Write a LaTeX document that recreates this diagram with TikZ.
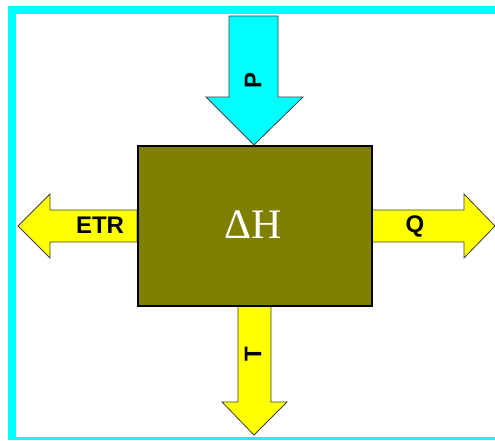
\documentclass[tikz,border=0pt]{standalone}
\usepackage{fontspec}
\newfontfamily\lblfont{Liberation Sans}
\newfontfamily\serfont{Liberation Serif}
\definecolor{frameC}{HTML}{00FFFF}
\definecolor{arrY}{HTML}{FFFF00}
\definecolor{boxC}{HTML}{808000}
\tikzset{
  arrowshape/.style={draw=black!75, line width=0.8pt, line join=miter},
  lbl/.style={font=\lblfont\bfseries\fontsize{24}{24}\selectfont, text=black, inner sep=0pt},
  framebar/.style={fill=frameC, draw=none}
}
\begin{document}
\begin{tikzpicture}[x=1pt,y=-1pt]
\useasboundingbox (0,0) rectangle (495,440);
\fill[white] (0,0) rectangle (495,440);
% frame
\fill[framebar] (8,6) rectangle (495,14);
\fill[framebar] (8,6) rectangle (16,440);
\fill[framebar] (8,437) rectangle (495,440);
% P arrow
\draw[arrowshape, fill=frameC] (229,16) -- (278,16) -- (278,97) -- (303,97) -- (254,145) -- (206,97) -- (229,97) -- cycle;
% ETR arrow
\draw[arrowshape, fill=arrY] (137,210) -- (50,210) -- (50,194) -- (18,226) -- (50,258) -- (50,242) -- (137,242) -- cycle;
% Q arrow
\draw[arrowshape, fill=arrY] (371,210) -- (464,210) -- (464,194) -- (495,226) -- (464,258) -- (464,242) -- (371,242) -- cycle;
% T arrow
\draw[arrowshape, fill=arrY] (238,305) -- (238,402) -- (222,402) -- (254,435) -- (287,402) -- (271,402) -- (271,305) -- cycle;
% box
\node[draw=black, line width=1.6pt, fill=boxC, minimum width=234pt, minimum height=160pt, inner sep=0pt, anchor=north west] (box) at (137,145) {};
\node[text=white, font=\serfont\fontsize{42}{42}\selectfont, inner sep=0pt] (dh) at (253,225) {ΔH};
% labels
\node[lbl, rotate=90] (p) at (253,80) {P};
\node[lbl] (etr) at (100,225) {ETR};
\node[lbl] (q) at (415,226) {Q};
\node[lbl, rotate=90] (t) at (253,354) {T};
\end{tikzpicture}
\end{document}
